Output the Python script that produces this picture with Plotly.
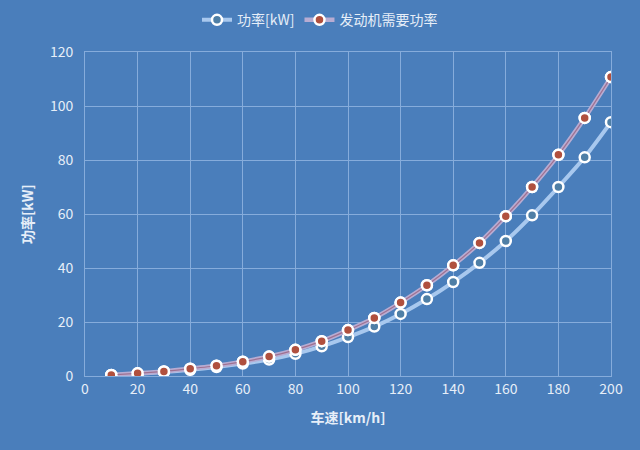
import plotly.graph_objects as go

# 车速与功率数据
speed = [10, 20, 30, 40, 50, 60, 70, 80, 90, 100, 110, 120, 130, 140, 150, 160, 170, 180, 190, 200]
power = [0.3, 0.8, 1.5, 2.3, 3.3, 4.6, 6.1, 8.2, 11.0, 14.4, 18.3, 23.0, 28.5, 34.8, 41.9, 50.0, 59.5, 70.0, 81.0, 94.0]
engine_power = [0.4, 1.0, 1.7, 2.7, 3.8, 5.3, 7.2, 9.7, 12.9, 17.0, 21.5, 27.2, 33.6, 41.0, 49.3, 59.2, 70.0, 81.9, 95.6, 110.7]
series_names = ["功率[kW]", "发动机需要功率"]

bg = "#4a7ebb"
grid = "#86acdb"
txt = "#e6eef8"
font_family = "Noto Sans CJK SC"

fig = go.Figure()

# 功率
fig.add_trace(go.Scatter(
    x=speed, y=power, name=series_names[0], mode="lines+markers",
    line=dict(color="#a8c8ee", width=4, shape="spline", smoothing=0.6),
    marker=dict(size=10, color="#4f7fa6", line=dict(color="white", width=2.5)),
))

# 发动机需要功率 (宽的浅色线 + 细的深色芯线)
fig.add_trace(go.Scatter(
    x=speed, y=engine_power, name=series_names[1], mode="lines+markers",
    line=dict(color="#b8acd2", width=4.5, shape="spline", smoothing=0.6),
    marker=dict(size=10, color="#b0503e", line=dict(color="white", width=2.5)),
))
fig.add_trace(go.Scatter(
    x=speed, y=engine_power, mode="lines", showlegend=False, hoverinfo="skip",
    line=dict(color="#a07090", width=1.2, shape="spline", smoothing=0.6),
))
fig.add_trace(go.Scatter(
    x=speed, y=engine_power, mode="markers", showlegend=False, hoverinfo="skip",
    marker=dict(size=10, color="#b0503e", line=dict(color="white", width=2.5)),
))

fig.update_layout(
    width=640, height=450,
    paper_bgcolor=bg, plot_bgcolor=bg,
    margin=dict(l=85, r=29, t=52, b=74, autoexpand=False),
    font=dict(family=font_family, color=txt, size=14),
    legend=dict(orientation="h", x=0.5, xanchor="center", xref="container",
                y=0.955, yanchor="middle", yref="container",
                font=dict(size=14, color=txt), bgcolor="rgba(0,0,0,0)"),
    xaxis=dict(
        range=[0, 200], dtick=20, tick0=0, showgrid=True, gridcolor=grid, gridwidth=1,
        zeroline=False, showline=True, linecolor=grid, mirror=True,
        tickfont=dict(size=14, color=txt), ticks="",
        title=dict(text="<b>车速[km/h]</b>", font=dict(size=14, color=txt), standoff=16),
    ),
    yaxis=dict(
        range=[0, 120], dtick=20, tick0=0, showgrid=True, gridcolor=grid, gridwidth=1,
        zeroline=False, showline=True, linecolor=grid, mirror=True,
        tickfont=dict(size=14, color=txt), ticks="", ticklabelstandoff=8,
        title=dict(text="<b>功率[kW]</b>", font=dict(size=14, color=txt), standoff=12),
    ),
)

# 去掉页面默认边距
fig.write_html("out.html", config={"displayModeBar": False},
               post_script="document.body.style.margin='0';document.body.style.background='%s';" % bg)
